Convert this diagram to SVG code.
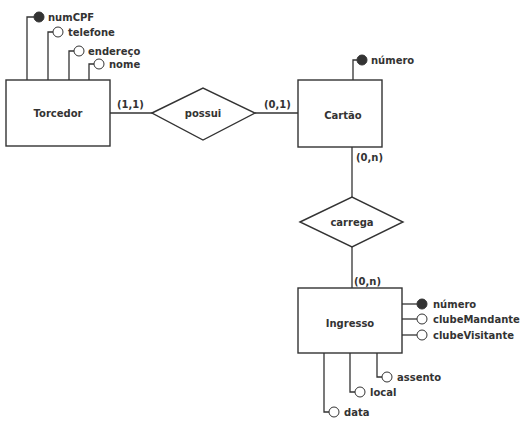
<svg xmlns="http://www.w3.org/2000/svg" width="523" height="421" viewBox="0 0 523 421">
<style>
.ln{stroke:#333;stroke-width:1.3;fill:none}
.box{stroke:#333;stroke-width:1.4;fill:#fff}
.t{font-family:"DejaVu Sans",Verdana,sans-serif;font-weight:bold;font-size:10px;fill:#333}
.c{text-anchor:middle}
.pk{fill:#333;stroke:#333;stroke-width:1}
.at{fill:#fff;stroke:#333;stroke-width:1}
</style>
<rect width="523" height="421" fill="#fff"/>
<g id="connectors">
<line class="ln" x1="110" y1="113" x2="152" y2="113"/>
<line class="ln" x1="255" y1="113" x2="298" y2="113"/>
<line class="ln" x1="352" y1="147" x2="352" y2="197"/>
<line class="ln" x1="352" y1="247" x2="352" y2="288"/>
<text class="t" x="117" y="108">(1,1)</text>
<text class="t" x="264" y="108">(0,1)</text>
<text class="t" x="356" y="161">(0,n)</text>
<text class="t" x="354" y="285">(0,n)</text>
</g>
<g id="torcedor">
<polyline class="ln" points="27,80 27,17 34,17"/>
<circle class="pk" cx="39" cy="17" r="5"/>
<text class="t" x="48" y="21">numCPF</text>
<polyline class="ln" points="48,80 48,32 53,32"/>
<circle class="at" cx="58" cy="32" r="5"/>
<text class="t" x="68" y="36">telefone</text>
<polyline class="ln" points="69,80 69,51 74,51"/>
<circle class="at" cx="79" cy="51" r="5"/>
<text class="t" x="88" y="55">endereço</text>
<polyline class="ln" points="89,80 89,64 94,64"/>
<circle class="at" cx="99" cy="64" r="5"/>
<text class="t" x="109" y="68">nome</text>
<rect class="box" x="6" y="80" width="104" height="66"/>
<text class="t c" x="58" y="117">Torcedor</text>
</g>
<g id="possui">
<polygon class="box" points="152,113 203,88 255,113 203,140"/>
<text class="t c" x="203" y="117">possui</text>
</g>
<g id="cartao">
<polyline class="ln" points="353,80 353,60 357,60"/>
<circle class="pk" cx="362" cy="60" r="5"/>
<text class="t" x="371" y="64">número</text>
<rect class="box" x="298" y="80" width="84" height="67"/>
<text class="t c" x="343" y="119">Cartão</text>
</g>
<g id="carrega">
<polygon class="box" points="300,222 352,197 403,222 352,247"/>
<text class="t c" x="352" y="226">carrega</text>
</g>
<g id="ingresso">
<line class="ln" x1="402" y1="304" x2="417" y2="304"/>
<circle class="pk" cx="422" cy="304" r="5"/>
<text class="t" x="433" y="308">número</text>
<line class="ln" x1="402" y1="319" x2="417" y2="319"/>
<circle class="at" cx="422" cy="319" r="5"/>
<text class="t" x="433" y="323">clubeMandante</text>
<line class="ln" x1="402" y1="335" x2="417" y2="335"/>
<circle class="at" cx="422" cy="335" r="5"/>
<text class="t" x="433" y="339">clubeVisitante</text>
<polyline class="ln" points="377,353 377,377 382,377"/>
<circle class="at" cx="387" cy="377" r="5"/>
<text class="t" x="397" y="381">assento</text>
<polyline class="ln" points="350,353 350,392 355,392"/>
<circle class="at" cx="360" cy="392" r="5"/>
<text class="t" x="370" y="396">local</text>
<polyline class="ln" points="324,353 324,412 329,412"/>
<circle class="at" cx="334" cy="412" r="5"/>
<text class="t" x="344" y="416">data</text>
<rect class="box" x="298" y="288" width="104" height="65"/>
<text class="t c" x="350" y="327">Ingresso</text>
</g>
</svg>
